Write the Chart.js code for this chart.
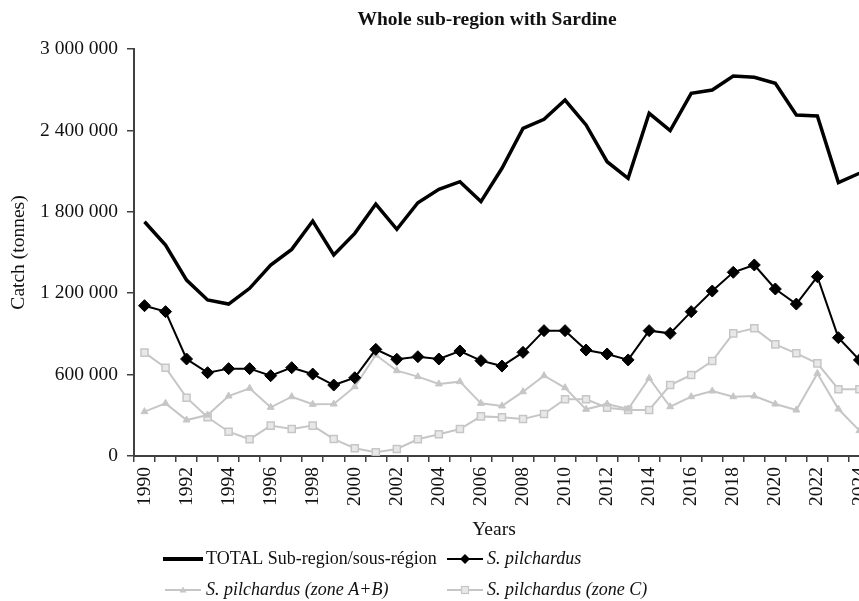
<!DOCTYPE html>
<html>
<head>
<meta charset="utf-8">
<script src="https://cdn.jsdelivr.net/npm/chart.js@4/dist/chart.umd.min.js"></script>
<style>
	html, body { margin: 0; padding: 0; background: #fff; overflow: hidden; }
	#wrap { width: 888px; height: 601px; }
</style>
</head>
<body>
<div id="wrap"><canvas id="sardine_chart" width="888" height="601"></canvas></div>
<script>
"use strict";

const years = ["1990", "1991", "1992", "1993", "1994", "1995", "1996", "1997", "1998", "1999",
	"2000", "2001", "2002", "2003", "2004", "2005", "2006", "2007", "2008", "2009",
	"2010", "2011", "2012", "2013", "2014", "2015", "2016", "2017", "2018", "2019",
	"2020", "2021", "2022", "2023", "2024"];
const totalArr = [1727000, 1555000, 1297000, 1150000, 1120000, 1236000, 1408000, 1523000, 1732000, 1482000,
	1641000, 1857000, 1671000, 1867000, 1966000, 2022000, 1875000, 2121000, 2415000, 2482000,
	2624000, 2440000, 2169000, 2047000, 2526000, 2398000, 2673000, 2698000, 2801000, 2791000,
	2747000, 2513000, 2506000, 2015000, 2084000];
const pilchardusArr = [1108000, 1064000, 715000, 614000, 644000, 644000, 592000, 651000, 604000, 523000,
	577000, 786000, 713000, 732000, 715000, 774000, 703000, 663000, 764000, 924000,
	924000, 781000, 752000, 708000, 924000, 904000, 1064000, 1216000, 1354000, 1408000,
	1231000, 1120000, 1322000, 872000, 708000];
const zoneABArr = [327000, 388000, 265000, 302000, 442000, 499000, 359000, 437000, 381000, 383000,
	511000, 744000, 629000, 585000, 531000, 548000, 388000, 369000, 474000, 592000,
	503000, 344000, 383000, 346000, 573000, 363000, 437000, 479000, 437000, 442000,
	383000, 339000, 609000, 346000, 187000];
const zoneCArr = [762000, 651000, 430000, 285000, 179000, 123000, 224000, 199000, 224000, 125000,
	57000, 27000, 52000, 123000, 160000, 199000, 292000, 285000, 273000, 310000,
	418000, 418000, 356000, 339000, 339000, 523000, 597000, 700000, 904000, 941000,
	823000, 757000, 683000, 492000, 492000];
const yTicks = [0, 600000, 1200000, 1800000, 2400000, 3000000];
const legendLabels = ["TOTAL Sub-region/sous-région", "S. pilchardus", "S. pilchardus (zone A+B)", "S. pilchardus (zone C)"];

const serif = "'Liberation Serif', 'Times New Roman', serif";
const inkColor = "#111";
const greyLine = "#c6c6c6";

const formatSpaced = (v) => String(v).replace(/\B(?=(\d{3})+(?!\d))/g, " ");

// title, x title and legend drawn by hand to match the original layout
const decorPlugin = {
	id: "decor",
	afterDraw(chart) {
		const c = chart.ctx;
		c.save();
		c.fillStyle = inkColor;
		c.textBaseline = "middle";
		c.textAlign = "center";
		c.font = "bold 19.5px " + serif;
		c.fillText("Whole sub-region with Sardine", 487, 20);
		c.font = "19.5px " + serif;
		c.fillText("Years", 494, 530);

		const rows = [
			{ x1: 163, x2: 203, y: 559, color: "#000", width: 4, mark: null, tx: 206, italic: false, text: legendLabels[0] },
			{ x1: 447, x2: 483, y: 559, color: "#000", width: 2, mark: "diamond", tx: 487, italic: true, text: legendLabels[1] },
			{ x1: 165, x2: 201, y: 590, color: greyLine, width: 2, mark: "triangle", tx: 206, italic: true, text: legendLabels[2] },
			{ x1: 447, x2: 483, y: 590, color: greyLine, width: 2, mark: "square", tx: 487, italic: true, text: legendLabels[3] },
		];
		rows.forEach((r) => {
			c.strokeStyle = r.color;
			c.lineWidth = r.width;
			c.beginPath();
			c.moveTo(r.x1, r.y);
			c.lineTo(r.x2, r.y);
			c.stroke();
			const mx = (r.x1 + r.x2) / 2;
			if (r.mark === "diamond") {
				c.fillStyle = "#000";
				c.beginPath();
				c.moveTo(mx, r.y - 5);
				c.lineTo(mx + 5, r.y);
				c.lineTo(mx, r.y + 5);
				c.lineTo(mx - 5, r.y);
				c.closePath();
				c.fill();
			} else if (r.mark === "triangle") {
				c.fillStyle = greyLine;
				c.beginPath();
				c.moveTo(mx, r.y - 3.5);
				c.lineTo(mx + 3.5, r.y + 2.5);
				c.lineTo(mx - 3.5, r.y + 2.5);
				c.closePath();
				c.fill();
			} else if (r.mark === "square") {
				c.fillStyle = "#e8e8e8";
				c.lineWidth = 1.2;
				c.fillRect(mx - 3.5, r.y - 3.5, 7, 7);
				c.strokeRect(mx - 3.5, r.y - 3.5, 7, 7);
			}
			c.fillStyle = inkColor;
			c.textAlign = "left";
			c.font = (r.italic ? "italic " : "") + "18px " + serif;
			c.fillText(r.text, r.tx, r.y);
		});
		c.restore();
	},
};

const ctx = document.getElementById("sardine_chart");
new Chart(ctx, {
	type: "line",
	data: {
		labels: years,
		datasets: [
			{
				label: legendLabels[0],
				data: totalArr,
				borderColor: "#000",
				borderWidth: 3.5,
				pointRadius: 0,
				tension: 0,
			},
			{
				label: legendLabels[1],
				data: pilchardusArr,
				borderColor: "#000",
				backgroundColor: "#000",
				borderWidth: 2,
				pointStyle: "rectRot",
				pointRadius: 6,
				pointBorderWidth: 1,
				tension: 0,
			},
			{
				label: legendLabels[2],
				data: zoneABArr,
				borderColor: greyLine,
				backgroundColor: greyLine,
				borderWidth: 2,
				pointStyle: "triangle",
				pointRadius: 4,
				pointBorderWidth: 1,
				tension: 0,
			},
			{
				label: legendLabels[3],
				data: zoneCArr,
				borderColor: greyLine,
				backgroundColor: "#e8e8e8",
				borderWidth: 2,
				pointStyle: "rect",
				pointRadius: 5,
				pointBorderWidth: 1.5,
				tension: 0,
			},
		],
	},
	options: {
		responsive: false,
		animation: false,
		events: [],
		layout: { padding: { left: 0, top: 49, right: 12.5, bottom: 57 } },
		plugins: {
			legend: { display: false },
			title: { display: false },
			tooltip: { enabled: false },
		},
		scales: {
			x: {
				offset: true,
				afterFit: (scale) => { scale.height = 88; },
				grid: { offset: true, drawOnChartArea: false, drawTicks: true, tickLength: 6, color: "#404040", lineWidth: 1.5 },
				border: { display: true, color: "#404040", width: 2 },
				ticks: {
					autoSkip: false,
					minRotation: 90,
					maxRotation: 90,
					padding: 5,
					color: inkColor,
					font: { family: serif, size: 19.5 },
					callback: function (val, i) { return i % 2 === 0 ? years[i] : ""; },
				},
			},
			y: {
				min: 0,
				max: 3000000,
				afterFit: (scale) => { scale.width = 134; },
				afterBuildTicks: (scale) => { scale.ticks = yTicks.map((v) => ({ value: v })); },
				grid: { drawOnChartArea: false, drawTicks: true, tickLength: 7, color: "#404040", lineWidth: 1.5 },
				border: { display: true, color: "#404040", width: 2 },
				ticks: {
					padding: 9,
					color: inkColor,
					font: { family: serif, size: 19.5 },
					callback: (v) => formatSpaced(v),
				},
				title: {
					display: true,
					text: "Catch (tonnes)",
					color: inkColor,
					font: { family: serif, size: 19.5 },
					padding: { top: 7, bottom: 0 },
				},
			},
		},
	},
	plugins: [decorPlugin],
});
</script>
</body>
</html>
